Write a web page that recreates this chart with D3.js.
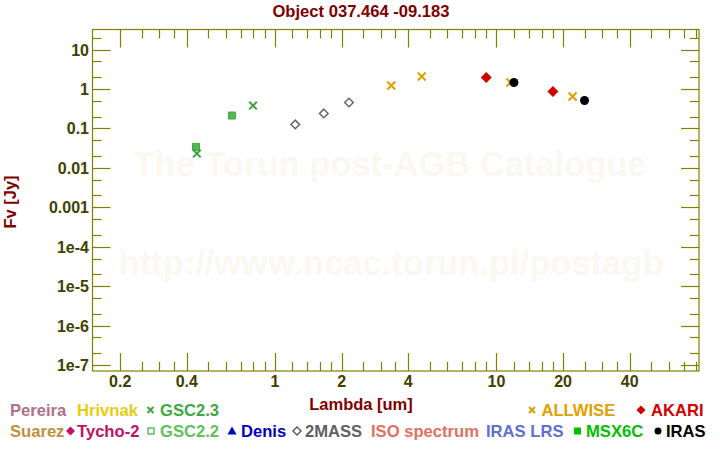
<!DOCTYPE html>
<html><head><meta charset="utf-8">
<script src="https://cdn.jsdelivr.net/npm/d3@7"></script>
<style>body{margin:0;background:#fff}svg text{font-family:"Liberation Sans",Arial,sans-serif;font-weight:bold}</style>
</head><body><svg id="c" width="720" height="450"></svg>
<script>
// ---- data ----
const title = "Object 037.464 -09.183";
const gsc23Lambda = [0.444, 0.796];
const gsc23Flux   = [0.023, 0.38];
const gsc22Lambda = [0.44, 0.639];
const gsc22Flux   = [0.034, 0.212];
const twomassLambda = [1.235, 1.662, 2.159];
const twomassFlux   = [0.126, 0.239, 0.454];
const allwiseLambda = [3.35, 4.6, 11.56, 22.08];
const allwiseFlux   = [1.22, 2.07, 1.46, 0.644];
const akariLambda = [9, 18];
const akariFlux   = [1.95, 0.862];
const irasLambda = [12, 25];
const irasFlux   = [1.46, 0.51];
const xMajorTicks = [0.2, 0.4, 1, 2, 4, 10, 20, 40];
const xMinorTicks = [0.25,0.3,0.35,0.5,0.6,0.7,0.8,0.9,1.2,1.4,1.6,1.8,2.5,3,3.5,5,6,7,8,9,12,14,16,18,25,30,35,50,60,70,80];
const yMajorTicks = [1e-7,1e-6,1e-5,1e-4,1e-3,0.01,0.1,1,10];
const yMajorLabels = ["1e-7","1e-6","1e-5","1e-4","0.001","0.01","0.1","1","10"];
const yMinorTicks = [2e-7,5e-7,2e-6,5e-6,2e-5,5e-5,2e-4,5e-4,2e-3,5e-3,0.02,0.05,0.2,0.5,2,5,20];
const xDomain = [0.15, 82.2];
const yDomain = [7.05e-8, 32.2];

// ---- layout ----
const L = 92.5, R = 699, T = 29.5, B = 371;
const axisColor = "#808000", labelColor = "#404000", titleColor = "#800000";
const svg = d3.select("#c");
const x = d3.scaleLog().domain(xDomain).range([L, R]);
const y = d3.scaleLog().domain(yDomain).range([B, T]);

// watermark
svg.append("text").attr("x", 390).attr("y", 176).attr("text-anchor","middle")
  .attr("font-size", 34.5).attr("fill", "#fbf8f1").text("The Torun post-AGB Catalogue");
svg.append("text").attr("x", 391).attr("y", 275).attr("text-anchor","middle")
  .attr("font-size", 34.5).attr("fill", "#fbf8f1").text("http://www.ncac.torun.pl/postagb");

// frame
svg.append("rect").attr("x", L).attr("y", T).attr("width", R-L).attr("height", B-T)
  .attr("fill","none").attr("stroke", axisColor).attr("stroke-width", 1.2);

const g = svg.append("g").attr("stroke", axisColor).attr("stroke-width", 1.2);
function xt(vals, len){
  vals.forEach(v=>{
    const px = Math.round(x(v))+0.5;
    g.append("line").attr("x1",px).attr("x2",px).attr("y1",B).attr("y2",B-len);
    g.append("line").attr("x1",px).attr("x2",px).attr("y1",T).attr("y2",T+len);
  });
}
function yt(vals, len){
  vals.forEach(v=>{
    const py = Math.round(y(v))+0.5;
    g.append("line").attr("x1",L).attr("x2",L+len).attr("y1",py).attr("y2",py);
    g.append("line").attr("x1",R).attr("x2",R-len).attr("y1",py).attr("y2",py);
  });
}
xt(xMajorTicks, 18); xt(xMinorTicks, 9);
yt(yMajorTicks, 18); yt(yMinorTicks, 9);

// tick labels
svg.append("g").selectAll("text").data(xMajorTicks).join("text")
  .attr("x", d=>x(d)).attr("y", 387).attr("text-anchor","middle")
  .attr("font-size",16).attr("fill",labelColor).text(d=>String(d));
svg.append("g").selectAll("text").data(yMajorTicks).join("text")
  .attr("x", 89).attr("y", d=>y(d)+6).attr("text-anchor","end")
  .attr("font-size",16).attr("fill",labelColor).text((d,i)=>yMajorLabels[i]);

// titles
svg.append("text").attr("x",361).attr("y",17).attr("text-anchor","middle")
  .attr("font-size",16.6).attr("fill",titleColor).text(title);
svg.append("text").attr("x",361).attr("y",410).attr("text-anchor","middle")
  .attr("font-size",16.5).attr("fill",titleColor).text("Lambda [um]");
svg.append("text").attr("transform","translate(16,202) rotate(-90)").attr("text-anchor","middle")
  .attr("font-size",16.5).attr("fill",titleColor).text("Fv [Jy]");

// marker shapes
const crossPath = s => `M${-s},${-s}L${s},${s}M${-s},${s}L${s},${-s}`;
const diamondPath = s => `M0,${-s}L${s},0L0,${s}L${-s},0Z`;
const squarePath = s => `M${-s},${-s}H${s}V${s}H${-s}Z`;
const triPath = s => `M0,${-s}L${s},${s*0.8}L${-s},${s*0.8}Z`;

function series(lams, fl, draw){
  const gg = svg.append("g");
  lams.forEach((l,i)=>draw(gg.append("g").attr("transform",`translate(${x(l)},${y(fl[i])})`)));
}
const markers = {
  gsc22: (s)=>s.append("path").attr("d",squarePath(3.5)).attr("fill","#55b555").attr("stroke","#44a844").attr("stroke-width",1),
  gsc23: (s)=>s.append("path").attr("d",crossPath(3.8)).attr("fill","none").attr("stroke","#3fa03f").attr("stroke-width",2),
  twomass: (s)=>s.append("path").attr("d",diamondPath(4.3)).attr("fill","none").attr("stroke","#666").attr("stroke-width",1.5),
  allwise: (s)=>s.append("path").attr("d",crossPath(4)).attr("fill","none").attr("stroke","#e0a000").attr("stroke-width",2),
  akari: (s)=>s.append("path").attr("d",diamondPath(5.5)).attr("fill","#d00000"),
  iras: (s)=>s.append("circle").attr("r",4.5).attr("fill","#000"),
};
series(gsc22Lambda, gsc22Flux, markers.gsc22);
series(gsc23Lambda, gsc23Flux, markers.gsc23);
series(twomassLambda, twomassFlux, markers.twomass);
series(allwiseLambda, allwiseFlux, markers.allwise);
series(akariLambda, akariFlux, markers.akari);
series(irasLambda, irasFlux, markers.iras);

// legend
const legendRow1 = [
  {t:"Pereira", x:10, c:"#b07088"},
  {t:"Hrivnak", x:77, c:"#e8cc10"},
  {t:"GSC2.3", x:160, c:"#40a840", m:"x", mx:150.5, mc:"#40a840"},
  {t:"ALLWISE", x:541.5, c:"#e0a000", m:"x", mx:532, mc:"#e0a000"},
  {t:"AKARI", x:651, c:"#d00000", m:"D", mx:641, mc:"#d00000"},
];
const legendRow2 = [
  {t:"Suarez", x:10, c:"#c09040"},
  {t:"Tycho-2", x:77, c:"#c01068", m:"D", mx:70.5, mc:"#c01068"},
  {t:"GSC2.2", x:160, c:"#60c060", m:"s", mx:151, mc:"#60c060"},
  {t:"Denis", x:241, c:"#0000c0", m:"t", mx:232, mc:"#0000c0"},
  {t:"2MASS", x:305, c:"#606060", m:"d", mx:297, mc:"#606060"},
  {t:"ISO spectrum", x:371, c:"#e07060"},
  {t:"IRAS LRS", x:486, c:"#6070d0"},
  {t:"MSX6C", x:586, c:"#00c000", m:"S", mx:577.5, mc:"#00c000"},
  {t:"IRAS", x:666, c:"#000000", m:"o", mx:658, mc:"#000000"},
];
function legendRow(items, yb){
  items.forEach(it=>{
    svg.append("text").attr("x",it.x).attr("y",yb).attr("font-size",16.6).attr("fill",it.c).text(it.t);
    if(!it.m) return;
    const cy = yb-6, s = svg.append("g").attr("transform",`translate(${it.mx},${cy})`);
    if(it.m==="x") s.append("path").attr("d",crossPath(3)).attr("stroke",it.mc).attr("stroke-width",2).attr("fill","none");
    if(it.m==="D") s.append("path").attr("d",diamondPath(4.5)).attr("fill",it.mc);
    if(it.m==="d") s.append("path").attr("d",diamondPath(4)).attr("fill","none").attr("stroke",it.mc).attr("stroke-width",1.5);
    if(it.m==="s") s.append("path").attr("d",squarePath(3)).attr("fill","none").attr("stroke",it.mc).attr("stroke-width",1.5);
    if(it.m==="S") s.append("path").attr("d",squarePath(3.5)).attr("fill",it.mc);
    if(it.m==="t") s.append("path").attr("d",triPath(4.5)).attr("fill",it.mc);
    if(it.m==="o") s.append("circle").attr("r",3.5).attr("fill",it.mc);
  });
}
legendRow(legendRow1, 416);
legendRow(legendRow2, 437);
</script></body></html>
